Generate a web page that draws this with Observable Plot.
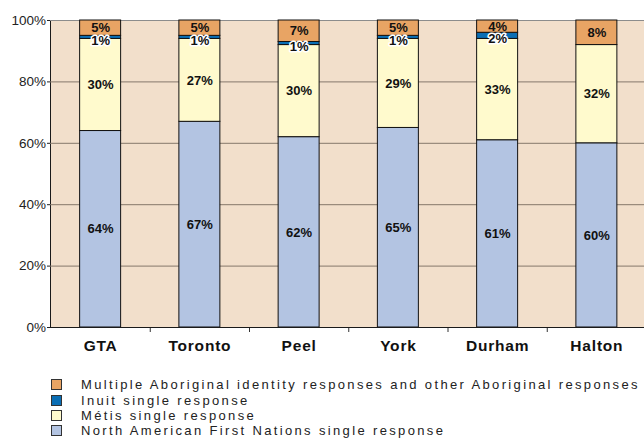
<!DOCTYPE html>
<html><head><meta charset="utf-8">
<script src="https://cdn.jsdelivr.net/npm/d3@7"></script>
<script src="https://cdn.jsdelivr.net/npm/@observablehq/plot@0.6"></script>
<style>
body{margin:0;background:#fff;overflow:hidden;font-family:"Liberation Sans",Arial,sans-serif;}
#legend{padding:15px 0 0 51px;}
.row{display:flex;align-items:center;height:15.4px;}
.sw{width:9px;height:9px;border:1px solid #333;margin-right:19px;flex:none;}
.lab{font-size:13px;letter-spacing:2.35px;color:#222;white-space:nowrap;}
</style></head><body>
<div id="chart"></div><div id="legend"></div>
<script>
const regions = ["GTA","Toronto","Peel","York","Durham","Halton"];
const firstNations = [64,67,62,65,61,60];
const metis = [30,27,30,29,33,32];
const inuit = [1,1,1,1,2,0];
const multiple = [5,5,7,5,4,8];
const seriesNames = [
  "North American First Nations single response",
  "Métis single response",
  "Inuit single response",
  "Multiple Aboriginal identity responses and other Aboriginal responses"
];
const seriesColors = ["#b3c4e2","#fffacd","#0a6eb4","#e8a464"];
const yTicks = [0,20,40,60,80,100];
const gridTicks = [20,40,60,80];

const seriesValues = [firstNations, metis, inuit, multiple];
const data = [];
regions.forEach((r,i)=>seriesNames.forEach((s,j)=>data.push({region:r, series:s, value:seriesValues[j][i]})));

const xRange = [50.5, 646];
const step = (xRange[1]-xRange[0])/regions.length;
const font = '"Liberation Sans", Arial, sans-serif';

const plot = Plot.plot({
  width:644, height:362, marginLeft:50, marginRight:0, marginTop:20, marginBottom:35,
  style:{fontFamily:font, background:"transparent"},
  x:{domain:regions, range:xRange, paddingInner:0.587, paddingOuter:0.2935, round:false, label:null},
  y:{domain:[0,100], label:null},
  color:{domain:seriesNames, range:seriesColors},
  marks:[
    Plot.frame({fill:"#f2dfcb", stroke:"#1a1a1a", insetRight:-5}),
    Plot.ruleY(gridTicks, {stroke:"#85786b", strokeOpacity:1}),
    Plot.ruleY([100], {stroke:"#8c8c8c"}),
    Plot.barY(data, {x:"region", y:"value", fill:"series", stroke:"#111", strokeWidth:1, order:seriesNames}),
    Plot.text(data, Plot.stackY({x:"region", y:"value", z:"series", order:seriesNames,
      text:d=>(d.value>0 && d.series!==seriesNames[2]) ? d.value+"%" : "",
      fontWeight:"bold", fontSize:13, fill:"#111"})),
    Plot.text(data, Plot.stackY({x:"region", y:"value", z:"series", order:seriesNames,
      text:d=>(d.value>0 && d.series===seriesNames[2]) ? d.value+"%" : "",
      fontWeight:"bold", fontSize:13, fill:"#111", stroke:"#fff", strokeWidth:3, dy:3})),
    Plot.ruleX(regions.slice(1), {x:d=>d, y1:0, y2:0, insetBottom:-5, dx:-step/2, stroke:"#333"}),
    Plot.ruleY([0], {stroke:"#1a1a1a"}),
    Plot.axisY({ticks:yTicks, tickFormat:d=>d+"%", tickSize:3, tickPadding:1.5, fontSize:13.5, color:"#222"}),
    Plot.axisX({tickSize:0, tickPadding:12, fontSize:15.5, fontWeight:"bold", color:"#111"})
  ]
});
plot.querySelectorAll('[aria-label="x-axis tick label"] text').forEach(t=>t.setAttribute("letter-spacing","0.8"));
document.getElementById("chart").appendChild(plot);

const legend = document.getElementById("legend");
seriesNames.slice().reverse().forEach((s)=>{
  const i = seriesNames.indexOf(s);
  const row = document.createElement("div"); row.className="row";
  const sw = document.createElement("div"); sw.className="sw"; sw.style.background=seriesColors[i];
  const lab = document.createElement("div"); lab.className="lab"; lab.textContent=s;
  row.appendChild(sw); row.appendChild(lab); legend.appendChild(row);
});
</script>
</body></html>
